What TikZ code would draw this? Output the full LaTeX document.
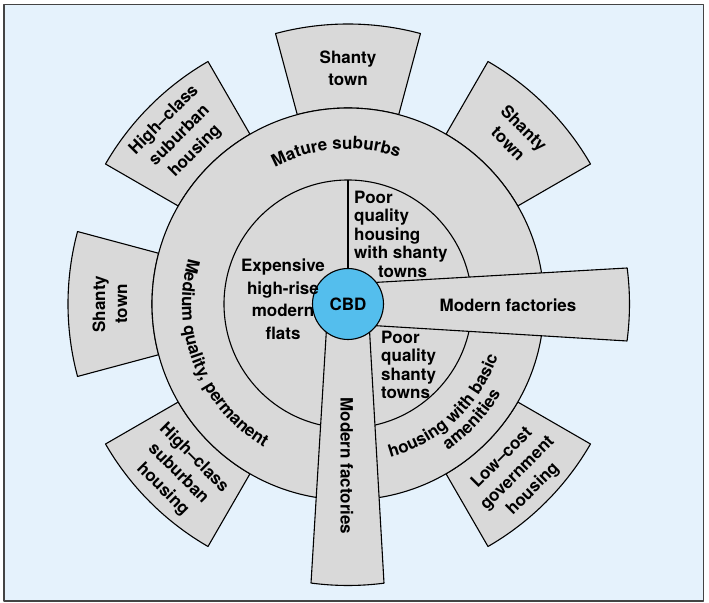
\documentclass[tikz,border=0pt]{standalone}
\usepackage{fontspec}
\setmainfont{TeX Gyre Heros}
\usetikzlibrary{decorations.text}

\definecolor{bgblue}{RGB}{229,242,252}
\definecolor{zonegray}{RGB}{217,217,217}
\definecolor{cbdblue}{RGB}{84,190,237}
\definecolor{framegray}{RGB}{68,68,68}
\newcommand\lblfont{\fontsize{17}{18.5}\selectfont\bfseries}
\newcommand\satfont{\fontsize{17}{22}\selectfont\bfseries}

\begin{document}
\begin{tikzpicture}[x=1pt,y=1pt,line join=round,
    zone/.style={fill=zonegray,draw=black,line width=1.1pt},
    lbl/.style={font=\lblfont,align=center,inner sep=0pt},
    satlbl/.style={font=\satfont,align=center,inner sep=0pt}]
  \useasboundingbox (-348,-298) rectangle (361,304);

  \def\Rcbd{35.5}   % CBD
  \def\Rin{124}     % inner ring
  \def\Rout{196}    % outer ring
  \def\Rsat{280}    % outlying zones
  \def\Rfac{281.5}  % factory strips

  % ---- frame --------------------------------------------------------------
  \draw[fill=bgblue,draw=framegray,line width=1.4pt]
        (-344,-297) rectangle (355.5,299.5);

  % ---- outlying zones beyond the suburbs ----------------------------------
  \foreach \a in {45,90,135,180,225,315}{
    \draw[zone] ({\a-15}:\Rout) arc[start angle=\a-15,end angle=\a+15,radius=\Rout]
       -- ({\a+15}:\Rsat) arc[start angle=\a+15,end angle=\a-15,radius=\Rsat] -- cycle;
  }

  % ---- rings --------------------------------------------------------------
  \draw[zone] (0,0) circle[radius=\Rout];
  \draw[line width=1.1pt] (0,0) circle[radius=\Rin];

  % ---- factory strips (east and south) ------------------------------------
  \foreach \r in {0,-90}{
    \begin{scope}[rotate=\r]
      \draw[zone] (0,20) -- (7.35:\Rfac)
         arc[start angle=7.35,end angle=-7.55,radius=\Rfac] -- (0,-20) -- cycle;
    \end{scope}
  }

  % ---- CBD ----------------------------------------------------------------
  \node[circle,fill=cbdblue,draw=black,line width=1.1pt,minimum size=71,
        inner sep=0pt,font=\lblfont] (cbd) at (0,0) {CBD};
  \coordinate (innertop) at (90:\Rin);
  \draw[line width=1.1pt] (cbd.north) -- (innertop);

  % ---- outlying zone labels -----------------------------------------------
  \node[satlbl] (shN) at (90:236) {Shanty\\town};
  \node[satlbl,rotate=-45] (shNE) at (45:238) {Shanty\\town};
  \node[satlbl,rotate=45] (hcNW) at (135:238) {High–class\\suburban\\housing};
  \node[satlbl,rotate=90] (shW) at (180:238) {Shanty\\town};
  \node[satlbl,rotate=-45] (hcSW) at (225:240) {High–class\\suburban\\housing};
  \node[satlbl,rotate=45] (lcSE) at (315:240) {Low–cost\\government\\housing};

  % ---- inner ring labels --------------------------------------------------
  \node[font=\fontsize{17}{22.5}\selectfont\bfseries,align=center,inner sep=0pt]
        (flats) at (-65,5) {Expensive\\high-rise\\modern\\flats};
  \node[lbl,align=left,anchor=west] (poorN) at (6,70)
        {Poor\\quality\\housing\\with shanty\\\hspace*{24pt}towns};
  \node[lbl,align=left,anchor=west] (poorS) at (33,-61)
        {Poor\\quality\\shanty\\towns};

  % ---- factory labels -----------------------------------------------------
  \node[lbl] (facE) at (160,-1) {Modern factories};
  \node[lbl,rotate=-90] (facS) at (-1,-162) {Modern factories};

  % ---- curved ring labels -------------------------------------------------
  \path[decorate,decoration={text along path,text align=center,
        text={|\lblfont|Mature suburbs}}]
        (154.5:155) arc[start angle=154.5,end angle=34.5,radius=155];
  \path[decorate,decoration={text along path,text align=center,
        text={|\lblfont|Medium qualit{y,} permanent}}]
        (141.8:166) arc[start angle=141.8,end angle=261.8,radius=166];
  \path[decorate,decoration={text along path,text align=center,
        text={|\lblfont|housing with basic}}]
        (-107:159) arc[start angle=-107,end angle=13,radius=159];
  \path[decorate,decoration={text along path,text align=center,
        text={|\lblfont|amenities}}]
        (-103:177) arc[start angle=-103,end angle=17,radius=177];

\end{tikzpicture}
\end{document}
